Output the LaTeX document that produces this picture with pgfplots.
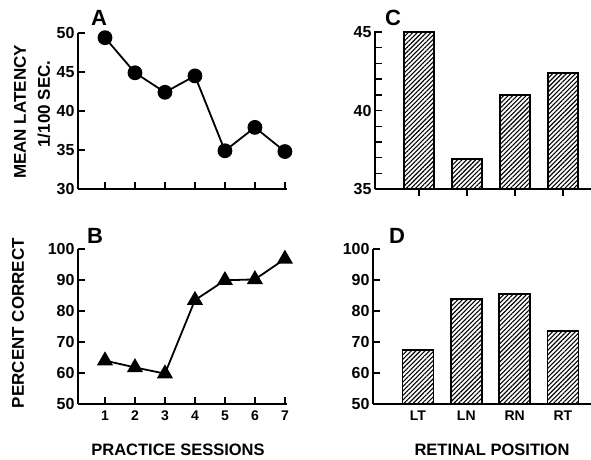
\documentclass[border=0pt]{standalone}
\usepackage{pgfplots}
\pgfplotsset{compat=1.18}
\usepackage{fontspec}
\setmainfont{Liberation Sans}
\usetikzlibrary{patterns.meta}
\begin{document}
\begin{tikzpicture}
\path[use as bounding box] (0pt,0pt) rectangle (591pt,459pt);
\pgfplotsset{
  every axis/.append style={
    scale only axis,
    axis x line*=bottom, axis y line*=left,
    axis line style={line width=1.8pt,-},
    tick style={line width=1.4pt,black},
    major tick length=7pt, minor tick length=7pt,
    tick align=inside,
    /pgf/number format/assume math mode=true,
    yticklabel style={font=\bfseries\fontsize{16}{16}\selectfont},
    xticklabel style={font=\bfseries\fontsize{14}{14}\selectfont, yshift=-3pt},
    anchor=south west,
  },
  hatch/.style={draw=black, line width=1.8pt, fill=white,
    pattern={Lines[angle=45,distance=3.2pt,line width=1.1pt]}},
}
% Panel A
\begin{axis}[at={(78pt,270pt)}, width=209pt, height=156pt,
  xmin=0.1, xmax=7.07, ymin=30, ymax=50,
  xtick={1,...,7}, xticklabels={}, ytick={30,35,40,45,50}, clip=false]
\addplot[black, line width=1.8pt, mark=*, mark size=6.5pt] coordinates {
(1,49.4)(2,44.9)(3,42.4)(4,44.5)(5,34.9)(6,37.9)(7,34.8)};
\end{axis}
% Panel B
\begin{axis}[at={(78pt,55pt)}, width=209pt, height=155pt,
  xmin=0.1, xmax=7.07, ymin=50, ymax=100,
  xtick={1,...,7}, ytick={50,60,...,100}, clip=false]
\addplot[black, line width=1.8pt, mark=triangle*, mark size=7.5pt] coordinates {
(1,64.0)(2,61.8)(3,59.8)(4,83.5)(5,89.9)(6,90.2)(7,96.8)};
\end{axis}
% Panel C
\begin{axis}[at={(375pt,270pt)}, width=216pt, height=158pt,
  xmin=-0.92, xmax=3.58, ymin=35, ymax=45.07,
  xtick={0,1,2,3}, xticklabels={}, xtick align=outside,
  ytick={35,40,45}, minor ytick={36,37,38,39,41,42,43,44}]
\addplot[ybar, bar width=30pt, hatch] coordinates {(0,45.0)(1,36.9)(2,41.0)(3,42.4)};
\end{axis}
% Panel D
\begin{axis}[at={(373pt,55pt)}, width=218pt, height=155pt,
  xmin=-0.93, xmax=3.58, ymin=50, ymax=100,
  xtick={0,1,2,3}, xticklabels={LT,LN,RN,RT}, major x tick style={draw=none},
  ytick={50,60,...,100}]
\addplot[ybar, bar width=31pt, hatch] coordinates {(0,67.5)(1,84.0)(2,85.6)(3,73.5)};
\end{axis}
% Texts
\begin{scope}[every node/.style={font=\bfseries}]
\node[font=\bfseries\fontsize{22}{22}\selectfont] at (99pt,441pt) {A};
\node[font=\bfseries\fontsize{22}{22}\selectfont] at (393pt,441pt) {C};
\node[font=\bfseries\fontsize{22}{22}\selectfont] at (95pt,223pt) {B};
\node[font=\bfseries\fontsize{22}{22}\selectfont] at (397pt,223pt) {D};
\node[rotate=90, font=\bfseries\fontsize{17}{17}\selectfont] at (20pt,347pt) {MEAN LATENCY};
\node[rotate=90, font=\bfseries\fontsize{17}{17}\selectfont] at (44pt,355pt) {1/100 SEC.};
\node[rotate=90, font=\bfseries\fontsize{17}{17}\selectfont] at (18pt,136pt) {PERCENT CORRECT};
\node[font=\bfseries\fontsize{16.5}{16.5}\selectfont] at (178pt,9pt) {PRACTICE SESSIONS};
\node[font=\bfseries\fontsize{16.5}{16.5}\selectfont] at (492pt,9.5pt) {RETINAL POSITION};
\end{scope}
\end{tikzpicture}
\end{document}
